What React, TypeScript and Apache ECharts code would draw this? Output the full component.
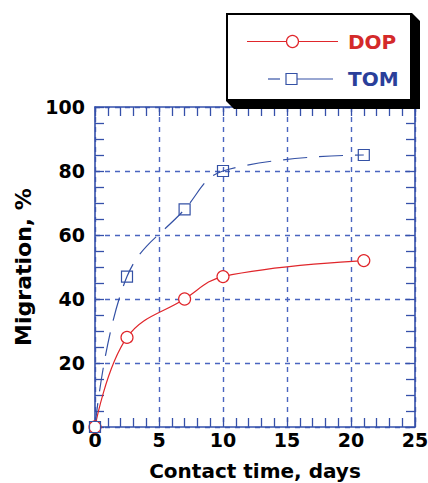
import React, { useEffect, useRef } from "react";
import * as echarts from "echarts";

// Contact time (days) and migration (%) for the two plasticizers
const days = [0, 2.5, 7, 10, 21];
const dopMigration = [0, 28, 40, 47, 52];
const tomMigration = [0, 47, 68, 80, 85];
const seriesNames = ["DOP", "TOM"];

const RED = "#e0262b";
const BLUE = "#3451a5";
const AXIS_BLUE = "#3550aa";
const GRID_BLUE = "#4a65c0";
const FONT = "DejaVu Sans";

function pairs(xs: number[], ys: number[]) {
  return xs.map((x, i) => [x, ys[i]]);
}

export default function App() {
  const ref = useRef<HTMLDivElement>(null);

  useEffect(() => {
    if (!ref.current) return;
    const chart = echarts.init(ref.current, null, { renderer: "svg" });

    // Every side of the plot frame is drawn as an axis with inward ticks
    const boxAxis = {
      type: "value" as const,
      axisLine: { show: true, onZero: false, lineStyle: { color: AXIS_BLUE, width: 1.6 } },
      axisTick: { show: true, inside: true, length: 9, lineStyle: { color: AXIS_BLUE, width: 1.3 } },
      minorTick: { show: true, length: 9, lineStyle: { color: AXIS_BLUE, width: 1.3 } },
      splitLine: { show: false },
    };

    const gridLine = { show: true, lineStyle: { color: GRID_BLUE, width: 1.4, type: [5, 5] } };

    const labelStyle = {
      color: "#000",
      fontFamily: FONT,
      fontWeight: "bold" as const,
      fontSize: 19,
    };

    chart.setOption({
      animation: false,
      grid: { left: 95, right: 13, top: 107, bottom: 56, outerBoundsMode: "none" },
      xAxis: [
        {
          ...boxAxis,
          position: "bottom",
          min: 0,
          max: 25,
          interval: 5,
          minorTick: { ...boxAxis.minorTick, splitNumber: 5 },
          splitLine: gridLine,
          axisLabel: { ...labelStyle, margin: 3 },
          name: "Contact time, days",
          nameLocation: "middle",
          nameGap: 34,
          nameTextStyle: { ...labelStyle, fontSize: 20 },
        },
        {
          ...boxAxis,
          position: "top",
          min: 0,
          max: 25,
          interval: 5,
          minorTick: { ...boxAxis.minorTick, splitNumber: 5 },
          axisLabel: { show: false },
        },
      ],
      yAxis: [
        {
          ...boxAxis,
          position: "left",
          min: 0,
          max: 100,
          interval: 20,
          minorTick: { ...boxAxis.minorTick, splitNumber: 4 },
          splitLine: gridLine,
          axisLabel: { ...labelStyle, margin: 10 },
          name: "Migration, %",
          nameLocation: "middle",
          nameGap: 61,
          nameTextStyle: { ...labelStyle, fontSize: 22 },
        },
        {
          ...boxAxis,
          position: "right",
          min: 0,
          max: 100,
          interval: 20,
          minorTick: { ...boxAxis.minorTick, splitNumber: 4 },
          axisLabel: { show: false },
        },
      ],
      series: [
        {
          name: seriesNames[0],
          type: "line",
          data: pairs(days, dopMigration),
          smooth: 0.4,
          symbol: "circle",
          symbolSize: 12,
          itemStyle: { color: "#fff", borderColor: RED, borderWidth: 1.2 },
          lineStyle: { color: RED, width: 1.2 },
          z: 3,
        },
        {
          name: seriesNames[1],
          type: "line",
          data: pairs(days, tomMigration),
          smooth: 0.4,
          symbol: "rect",
          symbolSize: 11,
          itemStyle: { color: "rgba(255,255,255,0)", borderColor: BLUE, borderWidth: 1.2 },
          lineStyle: { color: BLUE, width: 1.2, type: [24, 12] },
          z: 3,
        },
      ],
      graphic: [
        {
          type: "polygon",
          shape: {
            points: [
              [412, 13],
              [420, 21],
              [420, 109],
              [234, 109],
              [226, 101],
            ],
          },
          style: { fill: "#000" },
          z: 100,
        },
        {
          type: "rect",
          shape: { x: 227, y: 14, width: 184, height: 86 },
          style: { fill: "#fff", stroke: "#000", lineWidth: 2 },
          z: 101,
        },
        {
          type: "line",
          shape: { x1: 247, y1: 41.5, x2: 338, y2: 41.5 },
          style: { stroke: RED, lineWidth: 1.2 },
          z: 102,
        },
        {
          type: "circle",
          shape: { cx: 292.5, cy: 41.5, r: 6 },
          style: { fill: "#fff", stroke: RED, lineWidth: 1.2 },
          z: 103,
        },
        {
          type: "text",
          x: 348,
          y: 41.5,
          style: {
            text: seriesNames[0],
            fill: "#d42a2a",
            font: `bold 20px "${FONT}"`,
            verticalAlign: "middle",
          },
          z: 103,
        },
        {
          type: "line",
          shape: { x1: 268, y1: 79, x2: 280, y2: 79 },
          style: { stroke: BLUE, lineWidth: 1.2 },
          z: 102,
        },
        {
          type: "line",
          shape: { x1: 297, y1: 79, x2: 333, y2: 79 },
          style: { stroke: BLUE, lineWidth: 1.2 },
          z: 102,
        },
        {
          type: "rect",
          shape: { x: 286, y: 73.5, width: 11, height: 11 },
          style: { fill: "#fff", stroke: BLUE, lineWidth: 1.2 },
          z: 103,
        },
        {
          type: "text",
          x: 348,
          y: 79,
          style: {
            text: seriesNames[1],
            fill: "#2a3f9a",
            font: `bold 20px "${FONT}"`,
            verticalAlign: "middle",
          },
          z: 103,
        },
      ],
    });

    return () => chart.dispose();
  }, []);

  return (
    <div
      ref={ref}
      style={{ position: "absolute", left: 0, top: 0, width: 428, height: 483 }}
    />
  );
}
